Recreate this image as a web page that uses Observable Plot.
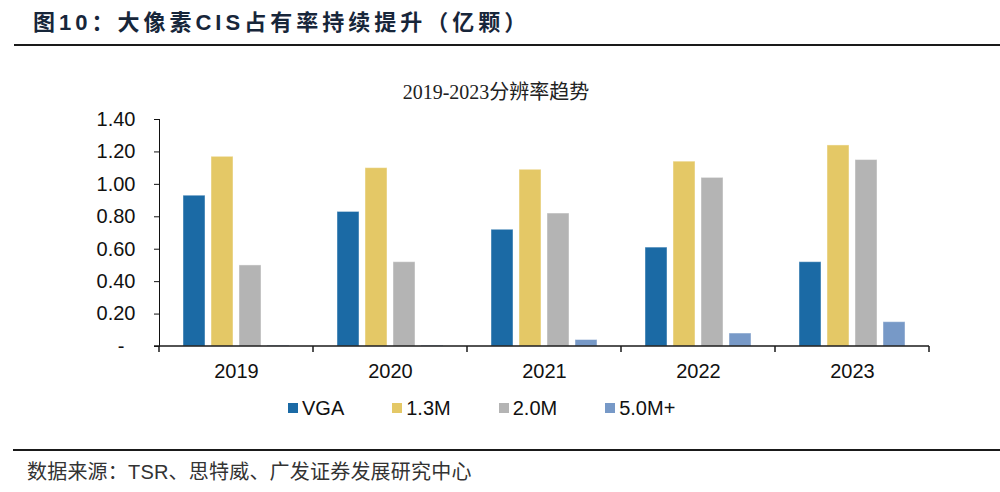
<!DOCTYPE html>
<html><head><meta charset="utf-8">
<script src="https://cdn.jsdelivr.net/npm/d3@7"></script>
<script src="https://cdn.jsdelivr.net/npm/@observablehq/plot@0.6"></script>
<style>
body{margin:0;width:1000px;height:492px;position:relative;background:#fff;overflow:hidden;font-family:"Liberation Sans",Arial,sans-serif}
#title{position:absolute;left:33px;top:12px;font-family:"Liberation Sans","Noto Sans CJK SC",sans-serif;font-weight:bold;font-size:22px;line-height:22px;letter-spacing:4px;color:#17263a;white-space:nowrap}
#rule1{position:absolute;left:14px;right:0;top:44px;height:2px;background:#1a1a1a}
#subtitle{position:absolute;left:0;width:992px;text-align:center;top:81px;font-family:"Liberation Serif","Noto Sans CJK SC",serif;font-size:20px;line-height:22px;color:#222;white-space:nowrap}
#chart{position:absolute;left:0;top:100px}
#legend{position:absolute;left:288px;top:397px;display:flex;gap:48px;font-size:20px;line-height:22px;color:#111}
#legend .it{display:flex;align-items:center;gap:4px}
#legend .sw{width:10px;height:10px;display:inline-block}
#rule2{position:absolute;left:13px;right:0;top:449px;height:2px;background:#1a1a1a}
#source{position:absolute;left:27px;top:460px;font-family:"Liberation Sans","Noto Sans CJK SC",sans-serif;font-size:20px;line-height:24px;letter-spacing:0.2px;color:#333;white-space:nowrap}
</style>
</head><body>
<div id="title">图10：大像素CIS占有率持续提升（亿颗）</div>
<div id="rule1"></div>
<div id="subtitle">2019-2023分辨率趋势</div>
<div id="chart"></div>
<div id="legend"></div>
<div id="rule2"></div>
<div id="source">数据来源：TSR、思特威、广发证券发展研究中心</div>
<script>
const years = ["2019","2020","2021","2022","2023"];
const seriesNames = ["VGA","1.3M","2.0M","5.0M+"];
const vga = [0.93,0.83,0.72,0.61,0.52];
const m13 = [1.17,1.10,1.09,1.14,1.24];
const m20 = [0.50,0.52,0.82,1.04,1.15];
const m50 = [0.005,0.005,0.04,0.08,0.15];
const colors = ["#1b6aa5","#e4c866","#b4b4b4","#7799c7"];
const yTicks = [0,0.2,0.4,0.6,0.8,1.0,1.2,1.4];

const table = [];
[vga,m13,m20,m50].forEach((arr,i)=>arr.forEach((v,j)=>table.push({year:years[j],series:seriesNames[i],value:v})));

const plot = Plot.plot({
  width:1000, height:290,
  marginTop:19, marginBottom:44, marginLeft:159, marginRight:71,
  style:{fontSize:"20px", fontFamily:"'Liberation Sans', Arial, sans-serif", color:"#111", background:"transparent", overflow:"visible"},
  fx:{domain:years, padding:0, axis:"bottom", tickSize:0, tickPadding:17, label:null},
  x:{domain:seriesNames, paddingInner:0.21, paddingOuter:0.855, axis:null},
  y:{domain:[0,1.4], ticks:yTicks, tickSize:5, tickPadding:19, line:true,
     tickFormat:d=>d===0?"-\u00a0\u00a0":d.toFixed(2), label:null},
  color:{domain:seriesNames, range:colors},
  facet:{data:table, x:"year"},
  marks:[
    Plot.barY(table,{x:"series", y:"value", fill:"series", stroke:"#ffffff", strokeOpacity:0.45, strokeWidth:1})
  ]
});
document.getElementById("chart").appendChild(plot);

const svg = d3.select(plot.tagName.toLowerCase()==="svg"?plot:plot.querySelector("svg"));
const fxS = plot.scale("fx"), yS = plot.scale("y");
const [x0,x1] = fxS.range;
const y0 = yS.apply(0);
const g = svg.append("g").attr("stroke","#1a1a1a").attr("stroke-width",1.5);
g.append("line").attr("x1",x0-5).attr("x2",x1).attr("y1",y0).attr("y2",y0);
years.map(y=>fxS.apply(y)).concat([x1]).forEach(bx=>{
  g.append("line").attr("x1",bx).attr("x2",bx).attr("y1",y0).attr("y2",y0+6);
});

const legend = d3.select("#legend");
seriesNames.forEach((s,i)=>{
  const it = legend.append("div").attr("class","it");
  it.append("span").attr("class","sw").style("background",colors[i]);
  it.append("span").text(s);
});
</script>
</body></html>
